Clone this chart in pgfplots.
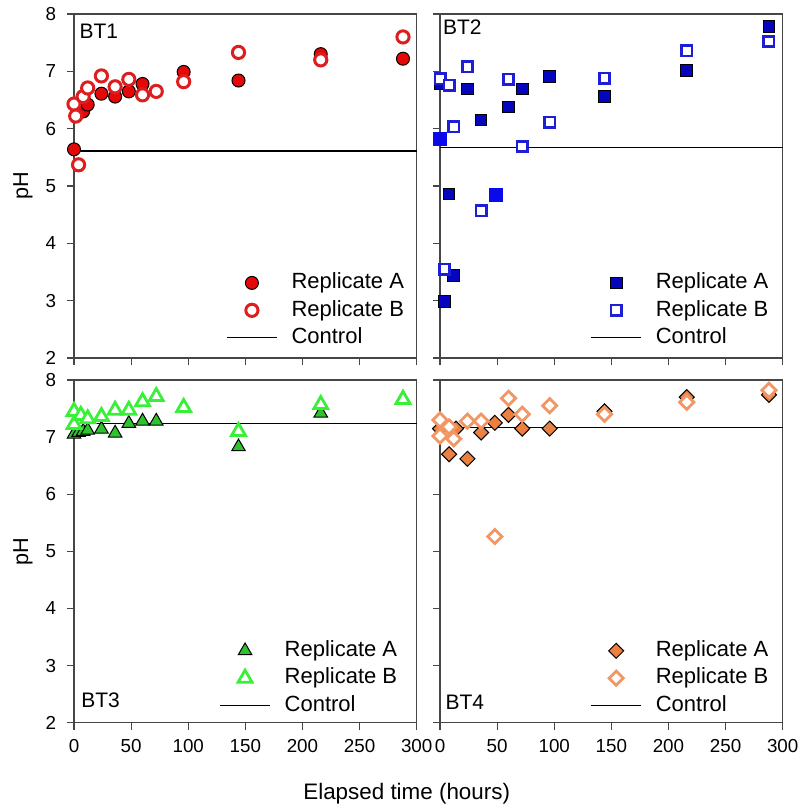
\documentclass[border=0pt]{standalone}
\usepackage{pgfplots}
\pgfplotsset{compat=1.18}
\usepackage{fontspec}
\setmainfont{Liberation Sans}

\definecolor{axgray}{RGB}{70,70,70}
\definecolor{redA}{RGB}{228,8,8}
\definecolor{redB}{RGB}{222,30,30}
\definecolor{blueA}{RGB}{5,5,190}
\definecolor{blueB}{RGB}{30,30,215}
\definecolor{blueX}{RGB}{10,10,235}
\definecolor{greenA}{RGB}{45,195,45}
\definecolor{greenB}{RGB}{55,240,55}
\definecolor{orangeA}{RGB}{236,128,64}
\definecolor{orangeB}{RGB}{242,150,100}

\pgfplotsset{
  panel/.style={
    scale only axis,
    width=171.35bp,
    xmin=0, xmax=300, ymin=2, ymax=8,
    xtick={0,50,...,300}, ytick={2,...,8},
    tick align=outside, xtick pos=bottom, ytick pos=left,
    major tick length=3.5bp,
    axis line style={draw=axgray, line width=0.6bp},
    tick style={draw=axgray, line width=0.6bp},
    clip=false,
    /pgf/number format/assume math mode=true,
    ticklabel style={font=\fontsize{9.4bp}{11bp}\selectfont},
    xticklabel style={yshift=-1.5bp},
    yticklabel style={xshift=-2bp},
    legend image code/.code={%
      \draw[mark repeat=2,mark phase=2,##1] plot coordinates {(0bp,0bp) (12.5bp,0bp) (25bp,0bp)};},
    legend cell align=left,
    legend style={draw=none, fill=none, anchor=south east,
      font=\fontsize{11bp}{13bp}\selectfont,
      inner sep=0pt, row sep=1.4bp, column sep=0pt,
      nodes={inner sep=1bp, text height=8bp, text depth=2.3bp},
      /tikz/every odd column/.style={column sep=6bp}},
  },
  ctrl/.style={black, line width=0.6bp, no marks},
}

\begin{document}
\begin{tikzpicture}
\path[use as bounding box] (0bp,0bp) rectangle (400.5bp,-403.5bp);

% BT1
\begin{axis}[panel, height=172bp, at={(37bp,-179bp)}, anchor=south west,
  xticklabels={}, legend style={at={(rel axis cs:0.97,0.022)}}]
\addplot[only marks, mark=*, mark size=3.25bp, draw=black, fill=redA, line width=0.5bp]
  coordinates {(0,5.64) (8,6.30) (12,6.42) (24,6.61) (36,6.56) (48,6.65) (60,6.78) (96,6.99) (144,6.84) (216,7.30) (288,7.22)};
\addplot[only marks, mark=*, mark size=3.05bp, draw=redB, fill=white, line width=1.5bp]
  coordinates {(0,6.43) (1.5,6.22) (4,5.37) (8,6.56) (12,6.71) (24,6.92) (36,6.73) (48,6.86) (60,6.59) (72,6.65) (96,6.82) (144,7.33) (216,7.20) (288,7.60)};
\addplot[ctrl] coordinates {(0,5.61) (300,5.61)};
\legend{Replicate A, Replicate B, Control}
\node[anchor=west, inner sep=0pt, font=\fontsize{10.5bp}{12bp}\selectfont] at (rel axis cs:0.015,0.95) {BT1};
\node[rotate=90, font=\fontsize{10.8bp}{12bp}\selectfont] at (rel axis cs:-0.149,0.5) {pH};
\end{axis}

% BT2
\begin{axis}[panel, height=172bp, at={(220bp,-179bp)}, anchor=south west,
  xticklabels={}, yticklabels={}, legend style={at={(rel axis cs:0.965,0.022)}}]
\addplot[only marks, mark=square*, mark size=2.9bp, draw=black, fill=blueA, line width=0.5bp]
  coordinates {(0,6.79) (4,2.99) (8,4.86) (12,3.44) (24,6.69) (36,6.15) (60,6.38) (72,6.69) (96,6.91) (144,6.56) (216,7.01) (288,7.78)};
\addplot[only marks, mark=square*, mark size=2.6bp, draw=blueB, fill=white, line width=1.3bp]
  coordinates {(0,6.87) (4,3.55) (8,6.76) (12,6.03) (24,7.08) (36,4.57) (60,6.86) (72,5.69) (96,6.11) (144,6.88) (216,7.36) (288,7.52)};
\addplot[ctrl] coordinates {(0,5.67) (300,5.67)};
\addplot[forget plot, only marks, mark=square*, mark size=3.3bp, draw=blueX, fill=blueX, line width=0.4bp]
  coordinates {(0,5.82) (49,4.85)};
\legend{Replicate A, Replicate B, Control}
\node[anchor=west, inner sep=0pt, font=\fontsize{10.5bp}{12bp}\selectfont] at (rel axis cs:0.008,0.961) {BT2};
\end{axis}

% BT3
\begin{axis}[panel, height=171.35bp, at={(37bp,-361.35bp)}, anchor=south west,
  legend style={at={(rel axis cs:0.95,0.013)}}]
\addplot[only marks, mark=triangle*, mark size=3.9bp, draw=black, fill=greenA, line width=0.5bp]
  coordinates {(0,7.05) (4,7.08) (8,7.10) (12,7.12) (24,7.14) (36,7.07) (48,7.24) (60,7.28) (72,7.28) (144,6.83) (216,7.42) (288,7.68)};
\addplot[only marks, mark=triangle*, mark size=4.0bp, draw=greenB, fill=white, line width=1.4bp]
  coordinates {(0,7.45) (0,7.22) (6,7.38) (12,7.32) (24,7.36) (36,7.47) (48,7.47) (60,7.62) (72,7.71) (96,7.52) (144,7.10) (216,7.57) (288,7.66)};
\addplot[ctrl] coordinates {(0,7.24) (300,7.24)};
\legend{Replicate A, Replicate B, Control}
\node[anchor=west, inner sep=0pt, font=\fontsize{10.5bp}{12bp}\selectfont] at (rel axis cs:0.02,0.065) {BT3};
\node[rotate=90, font=\fontsize{10.8bp}{12bp}\selectfont] at (rel axis cs:-0.149,0.5) {pH};
\end{axis}

% BT4
\begin{axis}[panel, height=171.35bp, at={(220bp,-361.35bp)}, anchor=south west,
  yticklabels={}, legend style={at={(rel axis cs:0.965,0.013)}}]
\addplot[only marks, mark=square*, mark options={rotate=45}, mark size=2.65bp, draw=black, fill=orangeA, line width=0.5bp]
  coordinates {(0,7.15) (8,6.70) (14,7.15) (24,6.62) (36,7.08) (48,7.25) (60,7.39) (72,7.15) (96,7.15) (144,7.45) (216,7.70) (288,7.74)};
\addplot[only marks, mark=square*, mark options={rotate=45}, mark size=2.5bp, draw=orangeB, fill=white, line width=1.4bp]
  coordinates {(0,7.30) (0,7.02) (8,7.18) (12,6.97) (24,7.28) (36,7.28) (48,5.26) (60,7.68) (72,7.40) (96,7.55) (144,7.40) (216,7.61) (288,7.82)};
\addplot[ctrl] coordinates {(0,7.17) (300,7.17)};
\legend{Replicate A, Replicate B, Control}
\node[anchor=west, inner sep=0pt, font=\fontsize{10.5bp}{12bp}\selectfont] at (rel axis cs:0.015,0.06) {BT4};
\end{axis}

\node[font=\fontsize{11.2bp}{13bp}\selectfont] at (203.35bp,-397bp) {Elapsed time (hours)};
\end{tikzpicture}
\end{document}
